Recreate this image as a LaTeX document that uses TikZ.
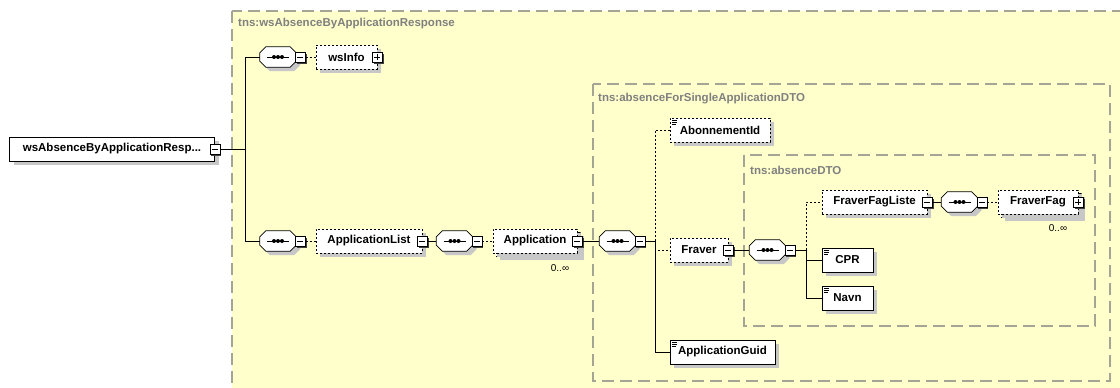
\documentclass[tikz,border=0pt]{standalone}
\usepackage{fontspec}
\setmainfont{Liberation Sans}
\usetikzlibrary{positioning}
\usetikzlibrary{shadows}
\definecolor{xsdyellow}{RGB}{255,255,204}
\definecolor{grpline}{RGB}{165,165,150}
\definecolor{grptext}{RGB}{128,128,128}

\begin{document}
\begin{tikzpicture}
    [
    x=1pt, y=-1pt,
    every node/.style={font=\fontsize{11.5}{13}\selectfont\bfseries},
    boxshadow/.style={drop shadow={shadow xshift=4pt, shadow yshift=-4pt, fill=black!22, opacity=1}},
    elem/.style={draw, fill=white, minimum height=24pt, inner sep=0pt, boxshadow},
    opt/.style={elem, dash pattern=on 2pt off 2pt},
    simple/.style={path picture={
        \draw [solid, line width=.6pt] ([xshift=2pt,yshift=-2pt]path picture bounding box.north west) -- ++(5pt,0pt);
        \draw [solid, line width=.6pt] ([xshift=2pt,yshift=-4pt]path picture bounding box.north west) -- ++(5pt,0pt);
        \draw [solid, line width=.6pt] ([xshift=2pt,yshift=-6pt]path picture bounding box.north west) -- ++(4pt,0pt);}},
    seqspot/.style={minimum width=36pt, minimum height=20pt, inner sep=0pt},
    tog/.style={draw, fill=white, minimum size=10pt, inner sep=0pt,
        drop shadow={shadow xshift=1.5pt, shadow yshift=-1.5pt, fill=black!75, opacity=1}},
    minus/.style={tog, path picture={
        \draw [solid] ([xshift=-3pt]path picture bounding box.center) -- ([xshift=3pt]path picture bounding box.center);}},
    plus/.style={tog, path picture={
        \draw [solid] ([xshift=-3pt]path picture bounding box.center) -- ([xshift=3pt]path picture bounding box.center);
        \draw [solid] ([yshift=-3pt]path picture bounding box.center) -- ([yshift=3pt]path picture bounding box.center);}},
    grp/.style={draw=grpline, line width=1.4pt, dash pattern=on 12pt off 6pt},
    grplbl/.style={text=grptext, anchor=west, inner sep=0pt},
    optlink/.style={dash pattern=on 2pt off 2pt},
    occ/.style={font=\fontsize{10}{12}\selectfont, inner sep=0pt},
    ]
    \useasboundingbox (0,0) rectangle (1120,388);
    \clip (0,0) rectangle (1120,388);

    \draw [grp, fill=xsdyellow] (232,11) rectangle (1135,400);
    \draw [grp] (593,84) rectangle (1110,381);
    \draw [grp] (744,155) rectangle (1095,326);
    \node (g1) at (238,24) [grplbl] {tns:wsAbsenceByApplicationResponse};
    \node (g2) at (598,99) [grplbl] {tns:absenceForSingleApplicationDTO};
    \node (g3) at (750,170) [grplbl] {tns:absenceDTO};

    \node (seq1) at (278,57) [seqspot] {};
    \node (seq2) at (278,241) [seqspot] {};
    \node (seq3) at (454.5,241) [seqspot] {};
    \node (seq4) at (617.5,241) [seqspot] {};
    \node (seq5) at (767.5,250) [seqspot] {};
    \node (seq6) at (959.5,202) [seqspot] {};
    \foreach \s in {seq1,seq2,seq3,seq4,seq5,seq6} {
      \draw [fill=white, boxshadow, line width=.8pt]
        ([xshift=6pt]\s.north west) -- ([xshift=-6pt]\s.north east) -- ([yshift=-6pt]\s.north east)
        -- ([yshift=6pt]\s.south east) -- ([xshift=-6pt]\s.south east) -- ([xshift=6pt]\s.south west)
        -- ([yshift=6pt]\s.south west) -- ([yshift=-6pt]\s.north west) -- cycle;
      \draw [line width=1pt] ([xshift=-11pt]\s.center) -- ([xshift=11pt]\s.center);
      \foreach \d in {-4,0,4}
        \fill ([xshift=\d pt]\s.center) circle (2pt);
    }

    \node (root) at (112,149) [elem, minimum width=205pt] {wsAbsenceByApplicationResp...};
    \node (rootm) at (root.east) [minus] {};
    \coordinate (b1) at (245,149);

    \node (seq1m) at ([xshift=-1pt]seq1.east) [minus, anchor=west] {};
    \node (wsinfo) at (346.5,57) [opt, minimum width=61pt] {wsInfo\hspace{9pt}};
    \node (wsinfop) at (wsinfo.east) [plus] {};

    \node (seq2m) at ([xshift=-1pt]seq2.east) [minus, anchor=west] {};
    \node (applist) at (369,241) [opt, minimum width=106pt] {ApplicationList\hspace{6pt}};
    \node (applistm) at (applist.east) [minus] {};

    \node (seq3m) at ([xshift=-1pt]seq3.east) [minus, anchor=west] {};
    \node (appback) at (538,244) [opt, minimum width=84pt] {};
    \node (app) at (535,241) [opt, minimum width=84pt] {Application\hspace{4pt}};
    \node (appm) at (app.east) [minus] {};
    \node (appocc) at (560,268) [occ] {0..∞};

    \node (seq4m) at ([xshift=-1pt]seq4.east) [minus, anchor=west] {};
    \coordinate (b2) at (655,241);

    \node (abon) at (720,130) [opt, simple, minimum width=100pt] {AbonnementId};
    \node (fraver) at (699,250) [opt, minimum width=58pt] {Fraver\hspace{6pt}};
    \node (fraverm) at (fraver.east) [minus] {};
    \node (guid) at (722.5,352) [elem, simple, minimum width=105pt] {ApplicationGuid};

    \node (seq5m) at ([xshift=-1pt]seq5.east) [minus, anchor=west] {};
    \coordinate (b3) at (806,250);

    \node (fflist) at (874.5,202) [opt, minimum width=105pt] {FraverFagListe\hspace{6pt}};
    \node (fflistm) at (fflist.east) [minus] {};
    \node (seq6m) at ([xshift=-1pt]seq6.east) [minus, anchor=west] {};
    \node (ffback) at (1041,205) [opt, minimum width=80pt] {};
    \node (ff) at (1038,202) [opt, minimum width=80pt] {FraverFag\hspace{6pt}};
    \node (ffp) at (ff.east) [plus] {};
    \node (ffocc) at (1058,228) [occ] {0..∞};

    \node (cpr) at (847.5,260) [elem, simple, minimum width=51pt] {CPR};
    \node (navn) at (847.5,298) [elem, simple, minimum width=51pt] {Navn};

    \draw (rootm) to (b1);
    \draw (b1) |- (seq1.west);
    \draw (b1) |- (seq2.west);
    \draw [optlink] (seq1m) to (wsinfo);
    \draw [optlink] (seq2m) to (applist);
    \draw (applistm) to (seq3);
    \draw [optlink] (seq3m) to (app);
    \draw (appm) to (seq4);
    \draw (seq4m) to (b2);
    \draw [optlink] (b2) |- (abon.west);
    \draw [optlink] (b2) |- (fraver.west);
    \draw (b2) |- (guid.west);
    \draw (fraverm) to (seq5);
    \draw (seq5m) to (b3);
    \draw [optlink] (b3) |- (fflist.west);
    \draw (b3) |- (cpr.west);
    \draw (b3) |- (navn.west);
    \draw (fflistm) to (seq6);
    \draw [optlink] (seq6m) to (ff);
  \end{tikzpicture}
\end{document}
